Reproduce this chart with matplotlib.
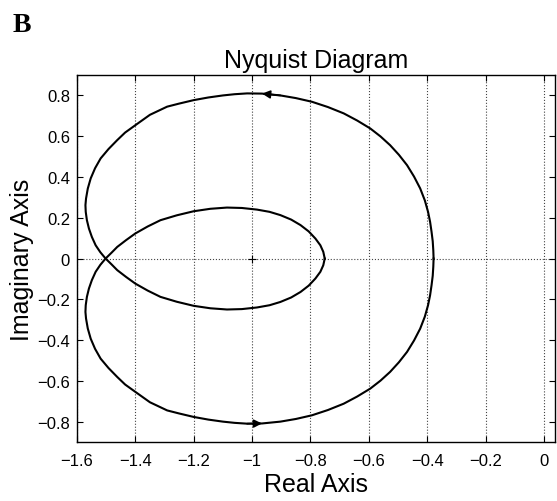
import matplotlib.pyplot as plt

plt.rcParams['font.family'] = ['Liberation Sans', 'DejaVu Sans']

# positive-frequency branch (omega = 0 -> inf)
re_pos = [-0.378, -0.379, -0.381, -0.385, -0.390, -0.397, -0.408, -0.424,
          -0.445, -0.469, -0.497, -0.527, -0.560, -0.595, -0.640, -0.686,
          -0.740, -0.795, -0.850, -0.903, -0.966, -1.017, -1.060, -1.100,
          -1.150, -1.200, -1.250, -1.291, -1.350, -1.400, -1.435, -1.462,
          -1.492, -1.519, -1.538, -1.553, -1.563, -1.569, -1.571, -1.570,
          -1.566, -1.559, -1.549, -1.536, -1.520, -1.502, -1.482, -1.462,
          -1.432, -1.400, -1.358, -1.314, -1.258, -1.200, -1.143, -1.086,
          -1.035, -0.983, -0.940, -0.903, -0.866, -0.834, -0.806, -0.783,
          -0.766, -0.756, -0.751]
im_pos = [0.000, 0.040, 0.085, 0.131, 0.180, 0.229, 0.285, 0.344,
          0.402, 0.458, 0.509, 0.556, 0.599, 0.638, 0.677, 0.712,
          0.743, 0.769, 0.787, 0.800, 0.809, 0.810, 0.806, 0.800,
          0.790, 0.777, 0.760, 0.745, 0.705, 0.654, 0.618, 0.581,
          0.537, 0.491, 0.443, 0.393, 0.343, 0.294, 0.262, 0.229,
          0.188, 0.147, 0.106, 0.065, 0.031, 0.000, -0.028, -0.057,
          -0.090, -0.123, -0.157, -0.188, -0.212, -0.232, -0.244, -0.250,
          -0.248, -0.240, -0.229, -0.213, -0.191, -0.164, -0.133, -0.098,
          -0.065, -0.033, 0.000]

# negative-frequency branch is the mirror image
re_neg = re_pos
im_neg = [-v for v in im_pos]

arrow_idx = re_pos.index(-0.966)

x_ticks = [-1.6, -1.4, -1.2, -1, -0.8, -0.6, -0.4, -0.2, 0]
x_labels = ['\u22121.6', '\u22121.4', '\u22121.2', '\u22121', '\u22120.8',
            '\u22120.6', '\u22120.4', '\u22120.2', '0']
y_ticks = [-0.8, -0.6, -0.4, -0.2, 0, 0.2, 0.4, 0.6, 0.8]
y_labels = ['\u22120.8', '\u22120.6', '\u22120.4', '\u22120.2', '0',
            '0.2', '0.4', '0.6', '0.8']

fig = plt.figure(figsize=(5.57, 5.02), dpi=100)
ax = fig.add_axes([0.1382, 0.1175, 0.8582, 0.731])

# dotted grid: vertical lines at the x ticks and the real axis
for xv in x_ticks:
    ax.axvline(xv, color='#444444', linestyle=':', linewidth=0.8, zorder=1)
ax.axhline(0, color='#444444', linestyle=':', linewidth=0.8, zorder=1)
ax.plot(-1, 0, marker='+', color='black', markersize=6, markeredgewidth=0.8)

ax.plot(re_pos, im_pos, color='black', linewidth=1.5, zorder=3)
ax.plot(re_neg, im_neg, color='black', linewidth=1.5, zorder=3)

# direction arrows
ax.annotate('', xy=(re_pos[arrow_idx], im_pos[arrow_idx]),
            xytext=(re_pos[arrow_idx - 1], im_pos[arrow_idx - 1]),
            arrowprops=dict(arrowstyle='-|>', color='black', lw=1.2,
                            mutation_scale=12, shrinkA=0, shrinkB=0))
ax.annotate('', xy=(re_neg[arrow_idx], im_neg[arrow_idx]),
            xytext=(re_neg[arrow_idx + 1], im_neg[arrow_idx + 1]),
            arrowprops=dict(arrowstyle='-|>', color='black', lw=1.2,
                            mutation_scale=12, shrinkA=0, shrinkB=0))

ax.set_xlim(-1.6, 0.038)
ax.set_ylim(-0.9, 0.9)
ax.set_xticks(x_ticks)
ax.set_xticklabels(x_labels)
ax.set_yticks(y_ticks)
ax.set_yticklabels(y_labels)
ax.tick_params(direction='in', top=True, right=True, length=4, width=0.8,
               labelsize=12)
ax.tick_params(axis='x', pad=8)
ax.tick_params(axis='y', pad=5)
for sp in ax.spines.values():
    sp.set_linewidth(1.0)

ax.set_title('Nyquist Diagram', fontsize=18, pad=6)
ax.set_xlabel('Real Axis', fontsize=18, labelpad=3)
ax.set_ylabel('Imaginary Axis', fontsize=18, labelpad=2)

fig.text(0.022, 0.975, 'B', fontsize=20, fontweight='bold',
         family='Liberation Serif', va='top', ha='left')

fig.savefig('out.png', dpi=100)
